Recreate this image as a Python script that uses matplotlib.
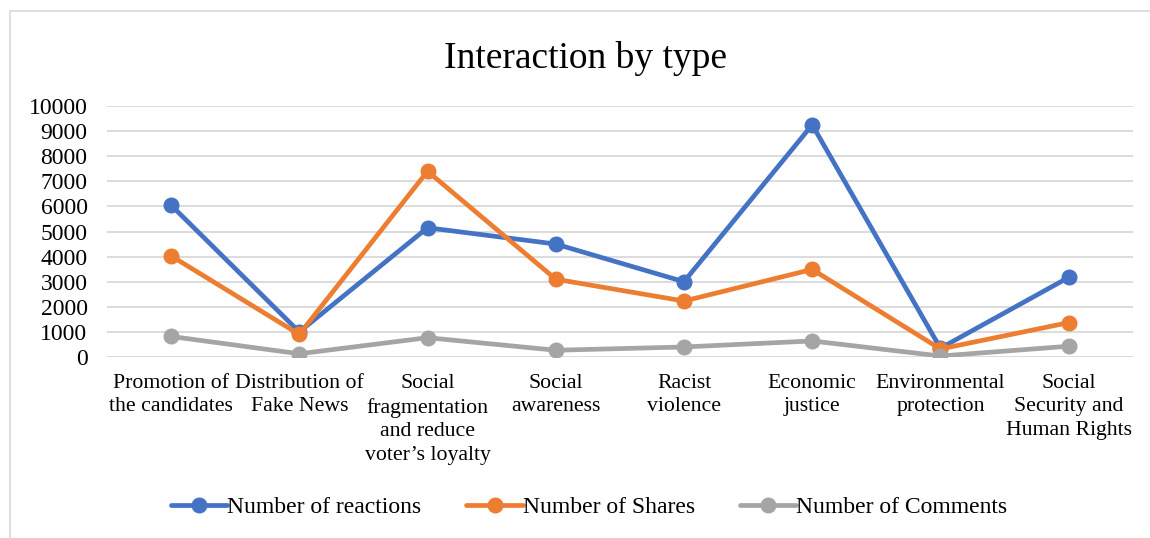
import matplotlib.pyplot as plt
from matplotlib.patches import Rectangle

categories = [
    "Promotion of\nthe candidates",
    "Distribution of\nFake News",
    "Social\nfragmentation\nand reduce\nvoter\u2019s loyalty",
    "Social\nawareness",
    "Racist\nviolence",
    "Economic\njustice",
    "Environmental\nprotection",
    "Social\nSecurity and\nHuman Rights",
]
reactions = [6050, 1000, 5150, 4500, 3000, 9250, 350, 3170]
shares = [4030, 900, 7400, 3100, 2230, 3490, 320, 1370]
comments = [820, 130, 770, 270, 400, 640, 40, 430]

series = [
    ("Number of reactions", reactions, "#4472C4"),
    ("Number of Shares", shares, "#ED7D31"),
    ("Number of Comments", comments, "#A5A5A5"),
]

plt.rcParams["font.family"] = ["Liberation Serif", "DejaVu Serif"]

fig = plt.figure(figsize=(11.5, 5.38), dpi=100)
ax = fig.add_axes([0.093, 0.3364, 0.892, 0.4666])

x = list(range(len(categories)))
for name, vals, col in series:
    ax.plot(x, vals, color=col, lw=3.4, marker="o", markersize=10.5,
            solid_capstyle="round", label=name, zorder=3)

ax.set_xlim(-0.5, len(categories) - 0.5)
ax.set_ylim(0, 10000)
ax.set_yticks(range(0, 10001, 1000))
ax.tick_params(axis="y", labelsize=17, length=0, pad=14)
ax.set_xticks(x)
ax.set_xticklabels(categories, fontsize=15.7, va="top", linespacing=1.34)
ax.tick_params(axis="x", length=0, pad=12)
ax.grid(axis="y", color="#D9D9D9", lw=1.3)
ax.set_axisbelow(True)
for s in ax.spines.values():
    s.set_visible(False)

fig.text(0.509, 0.892, "Interaction by type", ha="center", va="center", fontsize=27)

ax.legend(loc="center", bbox_to_anchor=(0.47, -0.60), ncol=3, frameon=False,
          fontsize=17, handlelength=2.4, handletextpad=0.0, columnspacing=1.9,
          markerscale=1.0)

fig.patches.append(Rectangle((0.009, -0.1), 1.2, 1.08, transform=fig.transFigure,
                             fill=False, ec="#D9D9D9", lw=1.2))

fig.savefig("out.png", dpi=100, facecolor="white")
